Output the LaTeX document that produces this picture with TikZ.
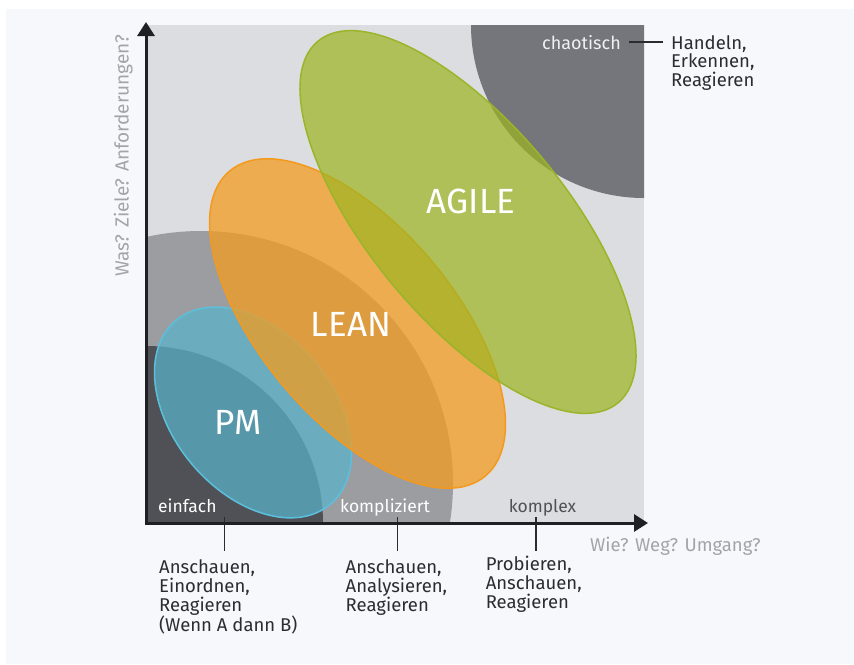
\documentclass[tikz,border=0pt]{standalone}
\usepackage{fontspec}
\setmainfont{Fira Sans}
\usetikzlibrary{arrows.meta}
\definecolor{panel}{HTML}{F7F8FC}
\definecolor{lightg}{HTML}{DCDDE1}
\definecolor{midg}{HTML}{9C9DA1}
\definecolor{darkg}{HTML}{505156}
\definecolor{chaog}{HTML}{75767B}
\definecolor{axisc}{HTML}{1F2023}
\definecolor{axtext}{HTML}{A3A4A8}
\definecolor{txt}{HTML}{2B2C30}
\definecolor{agilef}{HTML}{9DB520}
\definecolor{agiles}{HTML}{9AB52A}
\definecolor{leanf}{HTML}{F39C1F}
\definecolor{leans}{HTML}{F39A1E}
\definecolor{pmf}{HTML}{59B3CB}
\definecolor{pms}{HTML}{5BC0DC}
\begin{document}
\begin{tikzpicture}[x=1pt,y=-1pt,
  big/.style={text=white,font=\fontsize{35}{38}\selectfont,inner sep=0pt},
  region/.style={font=\fontsize{17.5}{19}\selectfont,inner sep=0pt,anchor=base west},
  block/.style={font=\fontsize{18.5}{19}\selectfont,inner sep=0pt,anchor=north west,align=left,text=txt},
  axlabel/.style={font=\fontsize{18.5}{20}\selectfont,text=axtext,inner sep=0pt},
  tickline/.style={draw=txt,line width=1.3pt},
  axisline/.style={draw=axisc,line width=3pt,-{Triangle[length=14pt,width=17pt]}},
  blob/.style={line width=1.5pt}
]
\useasboundingbox (0,0) rectangle (854,664);
\fill[white] (0,0) rectangle (854,664);
\fill[panel] (6,9) rectangle (854,664);
% plot area
\fill[lightg] (146,25) rectangle (644,523);
\begin{scope}
  \clip (146,25) rectangle (644,523);
  \fill[midg] (201,483) circle[radius=252pt];
  \fill[darkg] (146,523) circle[radius=177pt];
  \fill[chaog] (644,25) circle[radius=173pt];
\end{scope}
% ellipses
\filldraw[blob,fill=pmf,fill opacity=0.72,draw=pms,rotate around={-50:(253,412.5)}]
  (253,412.5) ellipse[x radius=120pt,y radius=80pt];
\filldraw[blob,fill=leanf,fill opacity=0.75,draw=leans,rotate around={-50:(357.5,323.5)}]
  (357.5,323.5) ellipse[x radius=199pt,y radius=97pt];
\filldraw[blob,fill=agilef,fill opacity=0.7,draw=agiles,rotate around={-50.3:(468,222)}]
  (468,222) ellipse[x radius=235pt,y radius=98pt];
% big labels
\node[big] (agile) at (471,201) {AGILE};
\node[big] (lean) at (351,324) {LEAN};
\node[big] (pm) at (238,422) {PM};
% region labels
\node[region,text=white] (einf) at (158,512) {einfach};
\node[region,text=white] (kompl) at (340,512) {kompliziert};
\node[region,text=darkg] (komx) at (508.6,512) {komplex};
\node[region,text=white!94!black,anchor=base east,font=\fontsize{18}{19}\selectfont] (chao) at (621,49) {chaotisch};
% right block
\node[block,font=\fontsize{18.5}{18.5}\selectfont] (hand) at (671,35) {Handeln,\\Erkennen,\\Reagieren};
\draw[tickline] ([xshift=8pt]chao.east) -- ([xshift=-8pt]chao.east -| hand.west);
% bottom blocks
\node[block] (b1) at (159,559) {Anschauen,\\Einordnen,\\Reagieren\\(Wenn A dann B)};
\node[block] (b2) at (345.5,559) {Anschauen,\\Analysieren,\\Reagieren};
\node[block] (b3) at (485.6,556) {Probieren,\\Anschauen,\\Reagieren};
\coordinate (t1) at (224.5,517);
\coordinate (t2) at (397.5,517);
\coordinate (t3) at (536,517);
\draw[tickline] (t1) -- ++(0,34);
\draw[tickline] (t2) -- ++(0,34);
\draw[tickline] (t3) -- ++(0,34);
% axes
\coordinate (ybot) at (146,524.5);
\coordinate (ytip) at (146,22);
\coordinate (xleft) at (144.5,523);
\coordinate (xtip) at (648,523);
\draw[axisline] (ybot) -- (ytip);
\draw[axisline] (xleft) -- (xtip);
% axis labels
\node[axlabel,rotate=90,anchor=base west,font=\fontsize{19}{20}\selectfont] (ylab) at (128.5,277) {Was? Ziele? Anforderungen?};
\node[axlabel,anchor=base west] (xlab) at (590,551) {Wie? Weg? Umgang?};
\end{tikzpicture}
\end{document}
